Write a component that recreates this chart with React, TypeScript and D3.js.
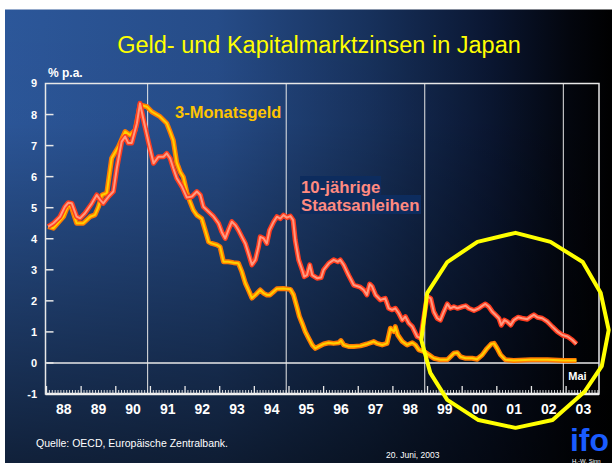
import React, { useMemo } from 'react';
import * as d3 from 'd3';

// Japan: 3-month money market rate and 10-year government bond yield, % p.a.
// [decimal year, value]
const moneyMarket: [number, number][] = [
  [1988.05, 4.39], [1988.2, 4.34], [1988.49, 4.71], [1988.63, 5.09], [1988.73, 4.98], [1988.87, 4.5],
  [1989.06, 4.5], [1989.26, 4.71], [1989.4, 4.77], [1989.5, 5.03], [1989.6, 5.41], [1989.74, 5.47],
  [1989.88, 6.59], [1990.08, 6.97], [1990.27, 7.45], [1990.41, 7.34], [1990.56, 7.5], [1990.7, 8.31],
  [1990.9, 8.25], [1991.04, 8.09], [1991.28, 7.93], [1991.47, 7.72], [1991.55, 7.5], [1991.66, 7.17],
  [1991.76, 6.45], [1991.86, 6.15], [1991.95, 5.99], [1992.05, 5.5], [1992.14, 5.2], [1992.24, 4.92],
  [1992.34, 4.76], [1992.48, 4.65], [1992.58, 4.28], [1992.68, 3.9], [1992.77, 3.85], [1992.92, 3.8],
  [1993.01, 3.74], [1993.11, 3.26], [1993.25, 3.26], [1993.4, 3.23], [1993.54, 3.21], [1993.64, 2.94],
  [1993.74, 2.57], [1993.83, 2.35], [1993.93, 2.09], [1994.03, 2.19], [1994.17, 2.35], [1994.26, 2.25],
  [1994.36, 2.19], [1994.45, 2.19], [1994.56, 2.3], [1994.65, 2.39], [1994.84, 2.4], [1995.04, 2.37],
  [1995.13, 2.2], [1995.23, 1.8], [1995.3, 1.5], [1995.38, 1.28], [1995.47, 1.01], [1995.57, 0.79],
  [1995.67, 0.58], [1995.76, 0.47], [1995.86, 0.53], [1996.0, 0.61], [1996.15, 0.65], [1996.29, 0.63],
  [1996.44, 0.65], [1996.5, 0.72], [1996.58, 0.58], [1996.72, 0.53], [1996.87, 0.53], [1997.06, 0.55],
  [1997.25, 0.61], [1997.45, 0.69], [1997.54, 0.63], [1997.69, 0.58], [1997.83, 0.63], [1997.93, 1.12],
  [1998.03, 1.01], [1998.07, 1.17], [1998.14, 0.9], [1998.27, 0.69], [1998.41, 0.58], [1998.56, 0.65],
  [1998.65, 0.58], [1998.75, 0.42], [1998.89, 0.37], [1999.04, 0.26], [1999.18, 0.15], [1999.37, 0.1],
  [1999.57, 0.1], [1999.66, 0.2], [1999.76, 0.31], [1999.86, 0.33], [1999.95, 0.2], [2000.1, 0.15],
  [2000.29, 0.15], [2000.43, 0.12], [2000.58, 0.26], [2000.72, 0.47], [2000.84, 0.61], [2000.92, 0.63],
  [2001.01, 0.47], [2001.11, 0.26], [2001.25, 0.1], [2001.49, 0.08], [2001.98, 0.1], [2002.46, 0.1],
  [2002.94, 0.08], [2003.3, 0.08],
];

const bondYield: [number, number][] = [
  [1988.05, 4.39], [1988.2, 4.5], [1988.39, 4.71], [1988.53, 5.03], [1988.63, 5.16], [1988.73, 5.14],
  [1988.87, 4.71], [1988.97, 4.66], [1989.11, 4.82], [1989.31, 5.14], [1989.45, 5.41], [1989.55, 5.25],
  [1989.64, 5.14], [1989.79, 5.36], [1989.93, 5.52], [1990.03, 6.27], [1990.17, 7.13], [1990.27, 7.29],
  [1990.36, 7.08], [1990.46, 7.08], [1990.61, 7.72], [1990.7, 8.36], [1990.8, 7.83], [1990.94, 7.13],
  [1991.09, 6.43], [1991.23, 6.64], [1991.38, 6.64], [1991.47, 6.75], [1991.57, 6.59], [1991.66, 6.27],
  [1991.76, 5.95], [1991.91, 5.68], [1992.05, 5.33], [1992.2, 5.36], [1992.34, 5.52], [1992.44, 5.41],
  [1992.53, 5.03], [1992.68, 4.87], [1992.82, 4.72], [1992.97, 4.49], [1993.06, 4.22], [1993.16, 4.01],
  [1993.25, 4.28], [1993.35, 4.55], [1993.45, 4.44], [1993.54, 4.28], [1993.64, 4.06], [1993.74, 3.85],
  [1993.83, 3.53], [1993.93, 3.16], [1994.03, 3.32], [1994.12, 3.74], [1994.17, 4.06], [1994.27, 4.01],
  [1994.36, 3.85], [1994.44, 4.28], [1994.56, 4.55], [1994.65, 4.71], [1994.75, 4.65], [1994.84, 4.76],
  [1994.94, 4.68], [1995.04, 4.73], [1995.12, 4.6], [1995.18, 3.96], [1995.28, 3.32], [1995.38, 3.0],
  [1995.44, 2.78], [1995.52, 2.83], [1995.6, 3.16], [1995.67, 2.83], [1995.81, 2.73], [1995.93, 2.75],
  [1996.0, 3.0], [1996.15, 3.21], [1996.29, 3.32], [1996.41, 3.26], [1996.48, 3.32], [1996.58, 3.16],
  [1996.72, 2.83], [1996.87, 2.51], [1997.06, 2.44], [1997.16, 2.35], [1997.25, 2.19], [1997.33, 2.54],
  [1997.4, 2.46], [1997.5, 2.19], [1997.64, 2.03], [1997.78, 2.08], [1997.88, 1.76], [1997.98, 1.71],
  [1998.07, 1.76], [1998.17, 1.6], [1998.27, 1.38], [1998.36, 1.49], [1998.46, 1.28], [1998.56, 1.17],
  [1998.7, 0.85], [1998.8, 0.8], [1998.99, 2.14], [1999.09, 2.08], [1999.18, 1.65], [1999.28, 1.44],
  [1999.37, 1.38], [1999.47, 1.65], [1999.57, 1.9], [1999.66, 1.76], [1999.76, 1.81], [1999.86, 1.76],
  [2000.0, 1.81], [2000.1, 1.84], [2000.19, 1.76], [2000.34, 1.69], [2000.48, 1.76], [2000.58, 1.84],
  [2000.67, 1.9], [2000.77, 1.81], [2000.87, 1.65], [2000.96, 1.55], [2001.06, 1.44], [2001.13, 1.22],
  [2001.22, 1.38], [2001.3, 1.33], [2001.4, 1.22], [2001.49, 1.38], [2001.61, 1.47], [2001.73, 1.44],
  [2001.88, 1.41], [2001.98, 1.49], [2002.07, 1.55], [2002.17, 1.47], [2002.31, 1.44], [2002.46, 1.33],
  [2002.6, 1.17], [2002.75, 1.01], [2002.89, 0.9], [2003.04, 0.85], [2003.18, 0.74], [2003.3, 0.61],
];

// hand-drawn yellow ring around 1999-2003, in data units
const focusRing: [number, number][] = [
  [2001.54, 4.19], [2002.55, 3.9], [2003.48, 3.25], [2004.0, 2.25], [2004.23, 1.06], [2004.03, -0.1],
  [2003.53, -0.93], [2002.61, -1.84], [2001.54, -2.09], [2000.47, -1.84], [1999.57, -1.19],
  [1999.08, -0.32], [1998.82, 0.74], [1998.99, 2.25], [1999.57, 3.25], [2000.44, 3.9],
];

const yTicks = [-1, 0, 1, 2, 3, 4, 5, 6, 7, 8, 9];
const yearLabels = ['88', '89', '90', '91', '92', '93', '94', '95', '96', '97', '98', '99', '00', '01', '02', '03'];
const dividerYears = [1990.92, 1994.92, 1998.92, 2002.92];

const W = 612;
const H = 463;
const FONT = "Arial, 'Liberation Sans', sans-serif";

export default function App() {
  const x = d3.scaleLinear().domain([1988, 2003.95]).range([46.5, 599]);
  const y = d3.scaleLinear().domain([-1, 9]).range([394, 83.5]);

  const line = d3.line<[number, number]>()
    .x(d => x(d[0]))
    .y(d => y(d[1]))
    .curve(d3.curveLinear);

  const ring = d3.line<[number, number]>()
    .x(d => x(d[0]))
    .y(d => y(d[1]))
    .curve(d3.curveLinearClosed);

  // monthly ticks along the bottom, taller at year starts
  const months = useMemo(() => d3.range(0, 16 * 12).filter(m => 1988 + m / 12 <= 2003.95), []);

  const [x0, x1] = x.range();
  const [yBottom, yTop] = y.range();

  return (
    <div style={{ position: 'absolute', left: 0, top: 0 }}>
      <svg width={W} height={H} style={{ display: 'block' }}>
        <defs>
          <linearGradient id="bgH" x1="0" x2="1" y1="0" y2="0">
            <stop offset="0%" stopColor="#2c579a" />
            <stop offset="35%" stopColor="#264c88" />
            <stop offset="60%" stopColor="#17315c" />
            <stop offset="80%" stopColor="#0a1631" />
            <stop offset="93%" stopColor="#03060e" />
            <stop offset="100%" stopColor="#000000" />
          </linearGradient>
          <linearGradient id="bgV" x1="0" x2="0" y1="0" y2="1">
            <stop offset="0%" stopColor="#000" stopOpacity="0" />
            <stop offset="25%" stopColor="#000" stopOpacity="0.02" />
            <stop offset="100%" stopColor="#000" stopOpacity="0.62" />
          </linearGradient>
        </defs>

        <rect x={0} y={0} width={W} height={H} fill="#ffffff" />
        <rect x={5} y={9.5} width={W - 5} height={H - 9.5} fill="url(#bgH)" />
        <rect x={5} y={9.5} width={W - 5} height={H - 9.5} fill="url(#bgV)" />

        <text x={319} y={53} textAnchor="middle" fill="#ffff00" fontSize={23.5} fontFamily={FONT}>
          Geld- und Kapitalmarktzinsen in Japan
        </text>

        <text x={48} y={77} fill="#ffffff" fontSize={12} fontWeight="bold" fontFamily={FONT}>% p.a.</text>

        {/* frame, dividers, zero line */}
        {dividerYears.map(d => (
          <line key={d} x1={x(d)} x2={x(d)} y1={yTop} y2={yBottom} stroke="#e8e8e8" strokeWidth={1} />
        ))}
        <line x1={x0} x2={x1} y1={y(0)} y2={y(0)} stroke="#e8e8e8" strokeWidth={1.5} />
        <rect x={x0 - 1} y={yTop} width={x1 - x0 + 1} height={yBottom - yTop} fill="none" stroke="#e8e8e8" strokeWidth={1.5} />
        <line x1={x0 - 1} x2={x1} y1={yBottom} y2={yBottom} stroke="#f0f0f0" strokeWidth={2.5} />

        {/* y axis */}
        {yTicks.map(t => (
          <g key={t}>
            {t > -1 && t < 9 && (
              <line x1={x0 - 1} x2={x0 + 7} y1={y(t)} y2={y(t)} stroke="#e8e8e8" strokeWidth={1.5} />
            )}
            <text x={37} y={y(t)} dy="0.36em" textAnchor="end" fill="#ffffff" fontSize={11} fontWeight="bold" fontFamily={FONT}>
              {t}
            </text>
          </g>
        ))}

        {/* x axis ticks */}
        {months.map(m => {
          const px = x(1988 + m / 12);
          const major = m % 12 === 0;
          return (
            <line key={m} x1={px} x2={px} y1={yBottom} y2={yBottom - (major ? 8 : 4)} stroke="#e8e8e8" strokeWidth={major ? 1.3 : 0.9} />
          );
        })}
        {yearLabels.map((lab, i) => (
          <text key={lab} x={x(1988 + i + 0.5)} y={414} textAnchor="middle" fill="#ffffff" fontSize={14} fontWeight="bold" fontFamily={FONT}>
            {lab}
          </text>
        ))}
        <text x={x(2003.33)} y={380} textAnchor="middle" fill="#ffffff" fontSize={11} fontWeight="bold" fontFamily={FONT}>Mai</text>

        {/* series: glowing double strokes */}
        <path d={line(moneyMarket) ?? ''} fill="none" stroke="#ff7a00" strokeWidth={5} strokeLinejoin="round" />
        <path d={line(moneyMarket) ?? ''} fill="none" stroke="#ffd000" strokeWidth={2} strokeLinejoin="round" />
        <path d={line(bondYield) ?? ''} fill="none" stroke="#ff3c1e" strokeWidth={5} strokeLinejoin="round" />
        <path d={line(bondYield) ?? ''} fill="none" stroke="#ff9a80" strokeWidth={2} strokeLinejoin="round" />

        {/* series labels */}
        <text x={175} y={118} fill="#ffc400" fontSize={16.5} fontWeight="bold" fontFamily={FONT}>3-Monatsgeld</text>
        <rect x={300} y={176} width={81} height={18.5} fill="#0d2c5e" />
        <rect x={300} y={195} width={121} height={19} fill="#0d2c5e" />
        <text x={301} y={192.5} fill="#ff8a80" fontSize={16.8} fontWeight="bold" fontFamily={FONT}>10-jährige</text>
        <text x={301} y={211} fill="#ff8a80" fontSize={16.8} fontWeight="bold" fontFamily={FONT}>Staatsanleihen</text>

        {/* annotation ring */}
        <path d={ring(focusRing) ?? ''} fill="none" stroke="#ffff00" strokeWidth={4} strokeLinejoin="round" />

        {/* footer */}
        <text x={36} y={447} fill="#ffffff" fontSize={10.5} fontFamily={FONT}>Quelle: OECD, Europäische Zentralbank.</text>
        <text x={386} y={458} fill="#ffffff" fontSize={8.5} fontFamily={FONT}>20. Juni, 2003</text>
        <text x={570} y={451} fill="#1a5cff" fontSize={31} fontWeight="900" fontFamily={FONT} textLength={39} lengthAdjust="spacingAndGlyphs">ifo</text>
        <text x={572} y={463} fill="#ffffff" fontSize={6} fontFamily={FONT}>H.-W. Sinn</text>
      </svg>
    </div>
  );
}
